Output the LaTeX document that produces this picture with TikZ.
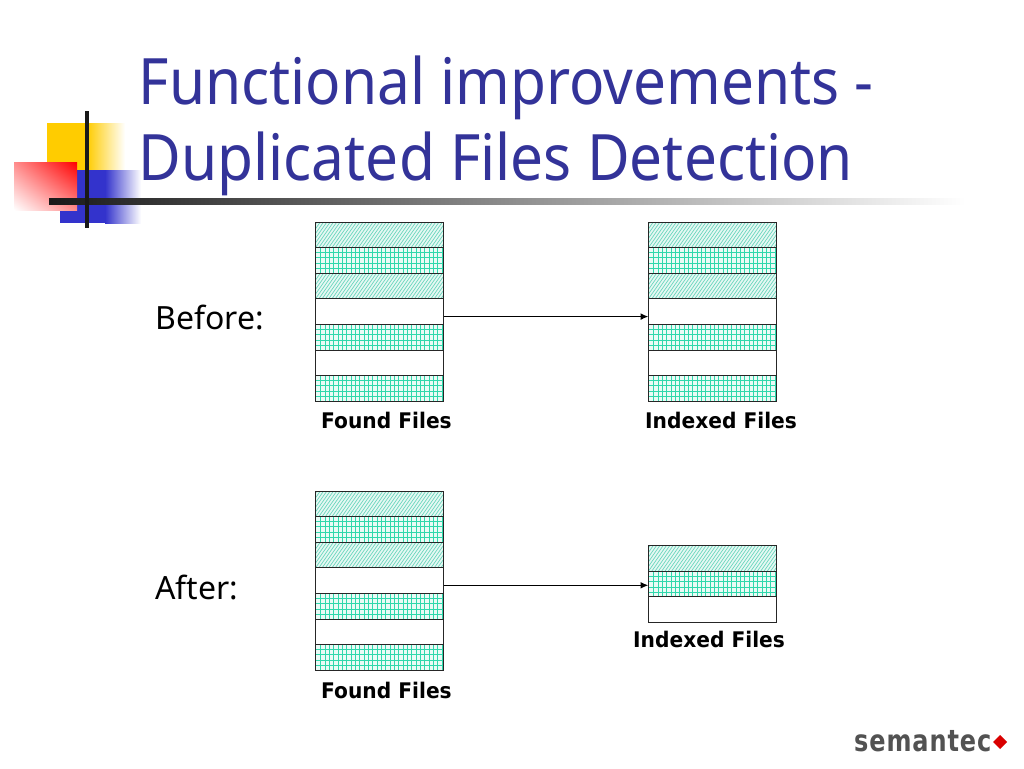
\documentclass[tikz,border=0pt]{standalone}
\usepackage{fontspec}
\setmainfont{Noto Sans}
\newfontfamily\titlefont[FakeStretch=0.915]{Noto Sans}
\newfontfamily\capfont[FakeStretch=0.94]{DejaVu Sans Bold}
\newfontfamily\logofont[FakeStretch=0.80,LetterSpace=3]{DejaVu Sans Bold}
\usetikzlibrary{arrows.meta,shadings}
\definecolor{titleblue}{HTML}{333399}
\definecolor{hatchc}{HTML}{6AD6BD}
\definecolor{hatchbg}{HTML}{E6F8F3}
\definecolor{gridc}{HTML}{2FD8AC}
\definecolor{gridbg}{HTML}{EAFBF6}
\definecolor{decoyellow}{HTML}{FFCC00}
\definecolor{decoblue}{HTML}{3333CC}
\tikzset{
  rowbase/.style={minimum width=127.5pt,minimum height=25.6pt,inner sep=0pt,outer sep=0pt,anchor=north west,draw=black!85,line width=1pt},
  plainrow/.style={rowbase,fill=white},
  hatchrow/.style={rowbase,fill=hatchbg,path picture={
    \foreach \i in {-6,...,40}
      \draw[hatchc,line width=.7pt]
        ([xshift=\i*3.3pt]path picture bounding box.south west) --
        ([xshift=\i*3.3pt+18pt]path picture bounding box.north west);}},
  gridrow/.style={rowbase,fill=gridbg,path picture={
    \foreach \i in {1,...,29}{
      \pgfmathsetmacro{\gx}{round(\i*4.33)+1}
      \draw[gridc,line width=1pt]
        ([xshift=\gx pt]path picture bounding box.south west) --
        ([xshift=\gx pt]path picture bounding box.north west);}
    \foreach \gy in {5,10,16,21}
      \draw[gridc,line width=1pt]
        ([yshift=-\gy pt]path picture bounding box.north west) --
        ([yshift=-\gy pt]path picture bounding box.north east);}},
  titletext/.style={font=\titlefont\fontsize{64}{76}\selectfont,text=titleblue,anchor=base west,inner sep=0pt},
  bodytext/.style={font=\fontsize{32}{38}\selectfont,text=black,anchor=base west,inner sep=0pt},
  captext/.style={font=\capfont\fontsize{21.5}{26}\selectfont,text=black,anchor=base west,inner sep=0pt},
  conn/.style={draw=black,line width=1.6pt,-{Latex[length=8pt,width=7pt]}}
}
\begin{document}
\begin{tikzpicture}[x=1pt,y=-1pt]
\useasboundingbox (0,0) rectangle (1024,768);
% decoration
\fill[decoyellow] (47,123) rectangle (87,170);
\shade[left color=decoyellow,right color=white] (87,123) rectangle (125,170);
\fill[decoblue] (60,170) rectangle (105,223);
\shade[left color=decoblue,right color=white] (105,170) rectangle (141,223);
\shade[upper right=red,lower left=white,upper left=red!45!white,lower right=red!45!white] (14,162) rectangle (77,210);
\shade[left color=black!90,right color=white] (49,198.5) rectangle (965,204);
\fill[black!90] (85,111) rectangle (89,228);
% title
\node[titletext] (t1) at (138.5,104) {Functional improvements -};
\node[titletext] (t2) at (138.5,180) {Duplicated Files Detection};
% labels
\node[bodytext] (before) at (155,329) {Before:};
\node[bodytext] (after) at (155,599) {After:};
% before, found
\node[hatchrow] (a1) at (315.5,222) {};
\node[gridrow] (a2) at (315.5,247.5) {};
\node[hatchrow] (a3) at (315.5,273.2) {};
\node[plainrow] (a4) at (315.5,298.8) {};
\node[gridrow] (a5) at (315.5,324.5) {};
\node[plainrow] (a6) at (315.5,350) {};
\node[gridrow] (a7) at (315.5,375.5) {};
% before, indexed
\node[hatchrow] (b1) at (648.5,222) {};
\node[gridrow] (b2) at (648.5,247.5) {};
\node[hatchrow] (b3) at (648.5,273.2) {};
\node[plainrow] (b4) at (648.5,298.8) {};
\node[gridrow] (b5) at (648.5,324.5) {};
\node[plainrow] (b6) at (648.5,350) {};
\node[gridrow] (b7) at (648.5,375.5) {};
% after, found
\node[hatchrow] (c1) at (315.5,491) {};
\node[gridrow] (c2) at (315.5,516.5) {};
\node[hatchrow] (c3) at (315.5,542.2) {};
\node[plainrow] (c4) at (315.5,567.8) {};
\node[gridrow] (c5) at (315.5,593.5) {};
\node[plainrow] (c6) at (315.5,619) {};
\node[gridrow] (c7) at (315.5,644.5) {};
% after, indexed
\node[hatchrow] (d1) at (648.5,545.5) {};
\node[gridrow] (d2) at (648.5,571.5) {};
\node[plainrow] (d3) at (648.5,596.5) {};
% captions
\node[captext] (capa) at (321,428) {Found Files};
\node[captext] (capb) at (645,428) {Indexed Files};
\node[captext] (capc) at (321,698) {Found Files};
\node[captext] (capd) at (633,647) {Indexed Files};
% connectors
\draw[conn] ([xshift=1pt,yshift=-5pt]a4.east) -- ([yshift=-5pt]b4.west);
\draw[conn] ([xshift=1pt,yshift=-1pt]d2.west -| c4.east) -- ([yshift=-1pt]d2.west);
% logo
\node[font=\logofont\fontsize{30}{36}\selectfont,text=black!68,anchor=base west,inner sep=0pt] (logo) at (854,751) {semantec};
\fill[red!85!black] (1000,735) -- (1007,742) -- (1000,749) -- (993,742) -- cycle;
\end{tikzpicture}
\end{document}
